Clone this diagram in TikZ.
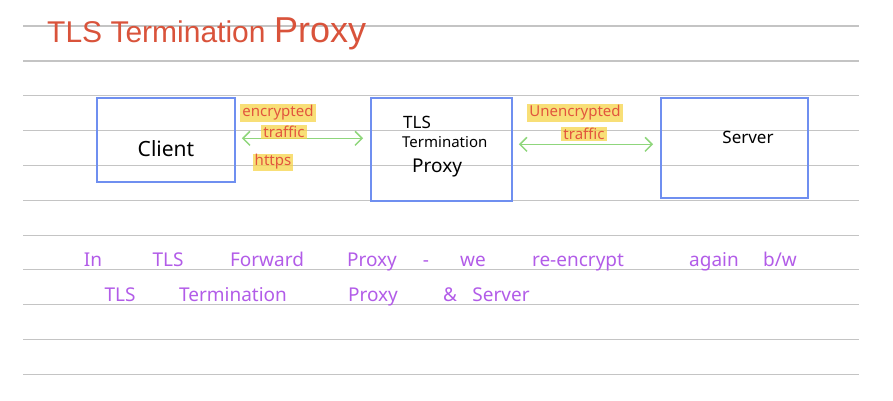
\documentclass[tikz,border=0pt]{standalone}
\usepackage{fontspec}
\setmainfont{Noto Sans}
\newfontfamily\titlefont{Liberation Sans}
\usetikzlibrary{arrows.meta}
\definecolor{rule}{HTML}{C4C4C4}
\definecolor{titlered}{HTML}{D9533B}
\definecolor{boxblue}{HTML}{6F8FF0}
\definecolor{arrgreen}{HTML}{8FD67C}
\definecolor{hlyellow}{HTML}{F6D44A}
\definecolor{labred}{HTML}{E2553D}
\definecolor{notepurple}{HTML}{B25CE8}
\tikzset{
  ruleline/.style={draw=rule, line width=1.2pt},
  box/.style={draw=boxblue, line width=1.8pt, rectangle, inner sep=0pt},
  hand/.style={font=\fontsize{17}{19}\selectfont\color{black}, inner sep=0pt},
  conn/.style={draw=arrgreen, line width=1.5pt, {Straight Barb[length=7pt,width=14pt]}-{Straight Barb[length=7pt,width=14pt]}},
  lab/.style={font=\fontsize{15}{16}\selectfont\color{labred}, fill=hlyellow, fill opacity=0.75, text opacity=1, inner xsep=2pt, inner ysep=1pt},
  note/.style={font=\fontsize{19}{21}\selectfont\color{notepurple}, anchor=base, inner sep=0pt},
}
\begin{document}
\begin{tikzpicture}[x=1pt,y=-1pt]
\useasboundingbox (0,0) rectangle (893,401);
% ruled lines
\foreach \yy in {26,61,95.7,130.3,165.3,200.3,235.3,269.3,304.3,339.3,374.3}
  \draw[ruleline] (23,\yy) -- (859,\yy);
% title
\node[anchor=base west, inner sep=0pt, font=\titlefont\fontsize{30}{32}\selectfont\color{titlered}] (title1) at (47,43) {TLS Termination};
\node[anchor=base west, inner sep=0pt, font=\titlefont\fontsize{36}{38}\selectfont\color{titlered}] (title2) at (274,43) {Proxy};
% boxes
\node[box, minimum width=138pt, minimum height=84pt] (client) at (166,140) {};
\node[box, minimum width=141pt, minimum height=103pt] (proxy) at (441.5,149.5) {};
\node[box, minimum width=147pt, minimum height=100pt] (server) at (734.5,148) {};
% box texts
\node[hand, font=\fontsize{21}{23}\selectfont] (clienttxt) at (166,149) {Client};
\node[hand, anchor=west] (ptls) at (403,122) {TLS};
\node[hand, anchor=west, font=\fontsize{15}{17}\selectfont] (pterm) at (402,142) {Termination};
\node[hand, anchor=west, font=\fontsize{19}{21}\selectfont] (pproxy) at (412,168) {Proxy};
\node[hand] (servertxt) at (748,137) {Server};
% connectors
\coordinate (ya) at (0,138.3);
\coordinate (yb) at (0,144.3);
\draw[conn, shorten <=6pt, shorten >=7pt] (client.east |- ya) -- (proxy.west |- ya);
\draw[conn, shorten <=6pt, shorten >=7pt] (proxy.east |- yb) -- (server.west |- yb);
% labels
\node[lab] (l1) at (278,113) {encrypted};
\node[lab] (l2) at (284,132) {traffic};
\node[lab] (l3) at (273,162) {https};
\node[lab] (l4) at (575,113) {Unencrypted};
\node[lab] (l5) at (584,134) {traffic};
% note line 1
\node[note] (n1) at (93,266) {In};
\node[note] (n2) at (168,266) {TLS};
\node[note] (n3) at (267,266) {Forward};
\node[note] (n4) at (372,266) {Proxy};
\node[note] (n5) at (426,266) {-};
\node[note] (n6) at (473,266) {we};
\node[note] (n7) at (578,266) {re-encrypt};
\node[note] (n8) at (714,266) {again};
\node[note] (n9) at (780,266) {b/w};
% note line 2
\node[note] (m1) at (120,301) {TLS};
\node[note] (m2) at (233,301) {Termination};
\node[note] (m3) at (373,301) {Proxy};
\node[note] (m4) at (450,301) {\&};
\node[note] (m5) at (501,301) {Server};
\end{tikzpicture}
\end{document}
